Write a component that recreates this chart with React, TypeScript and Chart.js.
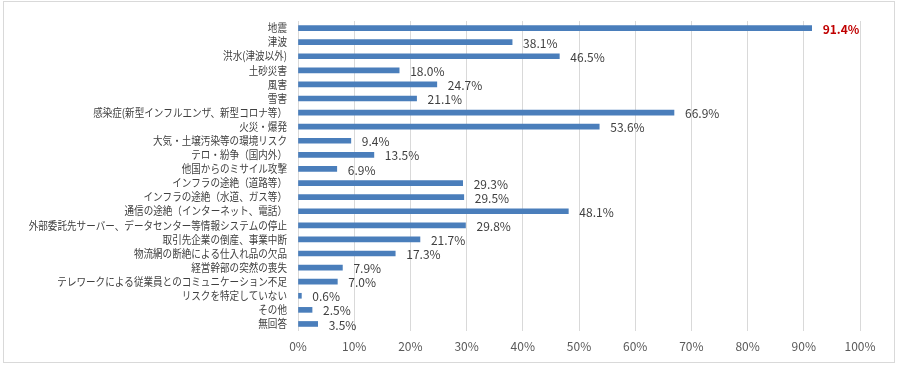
import React, { useEffect, useRef } from "react";
import { Chart, registerables } from "chart.js";

Chart.register(...registerables);

const categories = [
  "地震",
  "津波",
  "洪水(津波以外)",
  "土砂災害",
  "風害",
  "雪害",
  "感染症(新型インフルエンザ、新型コロナ等）",
  "火災・爆発",
  "大気・土壌汚染等の環境リスク",
  "テロ・紛争（国内外）",
  "他国からのミサイル攻撃",
  "インフラの途絶（道路等）",
  "インフラの途絶（水道、ガス等）",
  "通信の途絶（インターネット、電話）",
  "外部委託先サーバー、データセンター等情報システムの停止",
  "取引先企業の倒産、事業中断",
  "物流網の断絶による仕入れ品の欠品",
  "経営幹部の突然の喪失",
  "テレワークによる従業員とのコミュニケーション不足",
  "リスクを特定していない",
  "その他",
  "無回答",
];

const values = [
  91.4, 38.1, 46.5, 18.0, 24.7, 21.1, 66.9, 53.6, 9.4, 13.5, 6.9, 29.3, 29.5,
  48.1, 29.8, 21.7, 17.3, 7.9, 7.0, 0.6, 2.5, 3.5,
];

const xTicks = [0, 10, 20, 30, 40, 50, 60, 70, 80, 90, 100];

const FONT = "'Noto Sans CJK JP', 'Noto Sans', sans-serif";

const labelPlugin = {
  id: "valueLabels",
  afterDatasetsDraw(chart: any) {
    const ctx = chart.ctx;
    const meta = chart.getDatasetMeta(0);
    ctx.save();
    ctx.textBaseline = "middle";
    ctx.textAlign = "left";
    meta.data.forEach((bar: any, i: number) => {
      const v = values[i];
      const txt = v.toFixed(1) + "%";
      if (i === 0) {
        ctx.fillStyle = "#C00000";
        ctx.font = `bold 12px ${FONT}`;
      } else {
        ctx.fillStyle = "#404040";
        ctx.font = `12px ${FONT}`;
      }
      ctx.fillText(txt, bar.x + 11, bar.y + 1);
    });
    ctx.restore();
  },
};

const SCALE_X = 0.87;

const catLabelPlugin = {
  id: "catLabels",
  afterDraw(chart: any) {
    const ctx = chart.ctx;
    const yScale = chart.scales.y;
    const right = chart.chartArea.left - 11;
    ctx.save();
    ctx.fillStyle = "#404040";
    ctx.font = `11px ${FONT}`;
    ctx.textBaseline = "middle";
    ctx.textAlign = "right";
    categories.forEach((c, i) => {
      const y = yScale.getPixelForValue(i);
      ctx.save();
      ctx.translate(right, y);
      ctx.scale(SCALE_X, 1);
      ctx.fillText(c, 0, 0);
      ctx.restore();
    });
    ctx.restore();
  },
};

export default function App() {
  const ref = useRef<HTMLCanvasElement | null>(null);

  useEffect(() => {
    if (!ref.current) return;
    const chart = new Chart(ref.current, {
      type: "bar",
      data: {
        labels: categories,
        datasets: [
          {
            data: values,
            backgroundColor: "#4A7EBB",
            barThickness: 5,
          },
        ],
      },
      options: {
        indexAxis: "y",
        animation: false,
        responsive: false,
        maintainAspectRatio: false,
        layout: { padding: { left: 0, right: 40, top: 21, bottom: 0 } },
        plugins: {
          legend: { display: false },
          tooltip: { enabled: false },
        },
        scales: {
          x: {
            min: 0,
            max: 100,
            afterBuildTicks: (scale: any) => {
              scale.ticks = xTicks.map((v) => ({ value: v }));
            },
            afterFit: (scale: any) => {
              scale.height = 38;
            },
            grid: {
              color: "#D9D9D9",
              drawTicks: false,
              lineWidth: 1,
            },
            border: { display: false },
            ticks: {
              padding: 8,
              color: "#595959",
              font: { family: FONT, size: 12 },
              callback: (v: any) => v + "%",
            },
          },
          y: {
            afterFit: (scale: any) => {
              scale.width = 298;
            },
            grid: { display: false, drawTicks: false },
            border: { display: false },
            ticks: { display: false },
          },
        },
      },
      plugins: [labelPlugin, catLabelPlugin],
    });
    return () => chart.destroy();
  }, []);

  return (
    <div style={{ position: "fixed", left: 0, top: 0, width: 900, height: 369, background: "#fff" }}>
      <div
        style={{
          position: "absolute",
          left: 3,
          top: 1,
          width: 892,
          height: 362,
          border: "1px solid #D9D9D9",
          boxSizing: "border-box",
        }}
      />
      <canvas ref={ref} width={900} height={369} style={{ position: "absolute", left: 0, top: 0 }} />
    </div>
  );
}
